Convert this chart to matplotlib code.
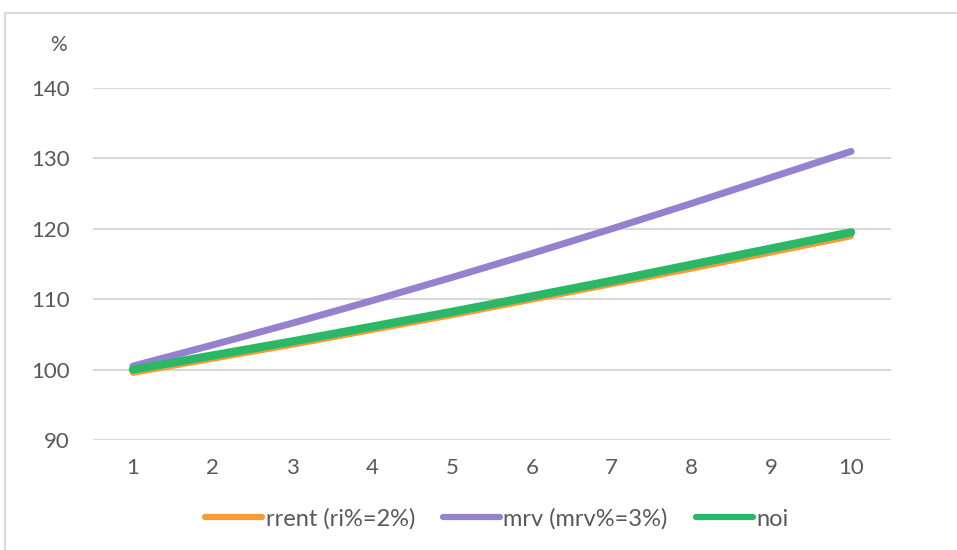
import matplotlib.pyplot as plt
from matplotlib.lines import Line2D

years = [1, 2, 3, 4, 5, 6, 7, 8, 9, 10]
rrent = [99.5, 101.5, 103.5, 105.6, 107.7, 109.9, 112.1, 114.3, 116.6, 118.9]
mrv = [100.5, 103.5, 106.6, 109.8, 113.1, 116.5, 120.0, 123.6, 127.3, 131.0]
noi = [100.0, 102.0, 104.0, 106.1, 108.2, 110.4, 112.6, 114.9, 117.2, 119.5]
yticks = [90, 100, 110, 120, 130, 140]

plt.rcParams['font.family'] = ['Lato', 'DejaVu Sans']
txt = '#595959'

fig = plt.figure(figsize=(9.57, 5.5), dpi=100)
ax = fig.add_axes([93 / 957, 0.2, 798 / 957, 0.64])

ax.plot(years, rrent, color='#F79B36', lw=4, solid_capstyle='round', label='rrent (ri%=2%)')
ax.plot(years, mrv, color='#9581CD', lw=5, solid_capstyle='round', label='mrv (mrv%=3%)')
ax.plot(years, noi, color='#2BB866', lw=6, solid_capstyle='round', label='noi')

ax.set_xlim(0.5, 10.5)
ax.set_ylim(90, 140)
ax.set_xticks(years)
ax.set_yticks(yticks)
ax.grid(axis='y', color='#D9D9D9', lw=1.5)
ax.set_axisbelow(True)
for s in ax.spines.values():
    s.set_visible(False)
ax.tick_params(length=0, labelsize=16, labelcolor=txt)
ax.tick_params(axis='y', pad=17)
ax.tick_params(axis='x', pad=13)

fig.text(58 / 957, 1 - 45 / 550, '%', fontsize=15, color=txt, ha='center', va='center')

# outer frame
fig.add_artist(Line2D([5 / 957, 5 / 957], [0, 1 - 13 / 550], color='#D9D9D9', lw=1.5))
fig.add_artist(Line2D([5 / 957, 1], [1 - 13 / 550, 1 - 13 / 550], color='#D9D9D9', lw=1.5))

leg = fig.legend(loc='center', bbox_to_anchor=(497 / 957, 1 - 519 / 550), ncol=3, frameon=False,
                 fontsize=17, labelcolor=txt, handlelength=2.4, handletextpad=0.15,
                 columnspacing=1.2)
for h in leg.legend_handles:
    h.set_linewidth(4.5)

fig.savefig('out.png')
